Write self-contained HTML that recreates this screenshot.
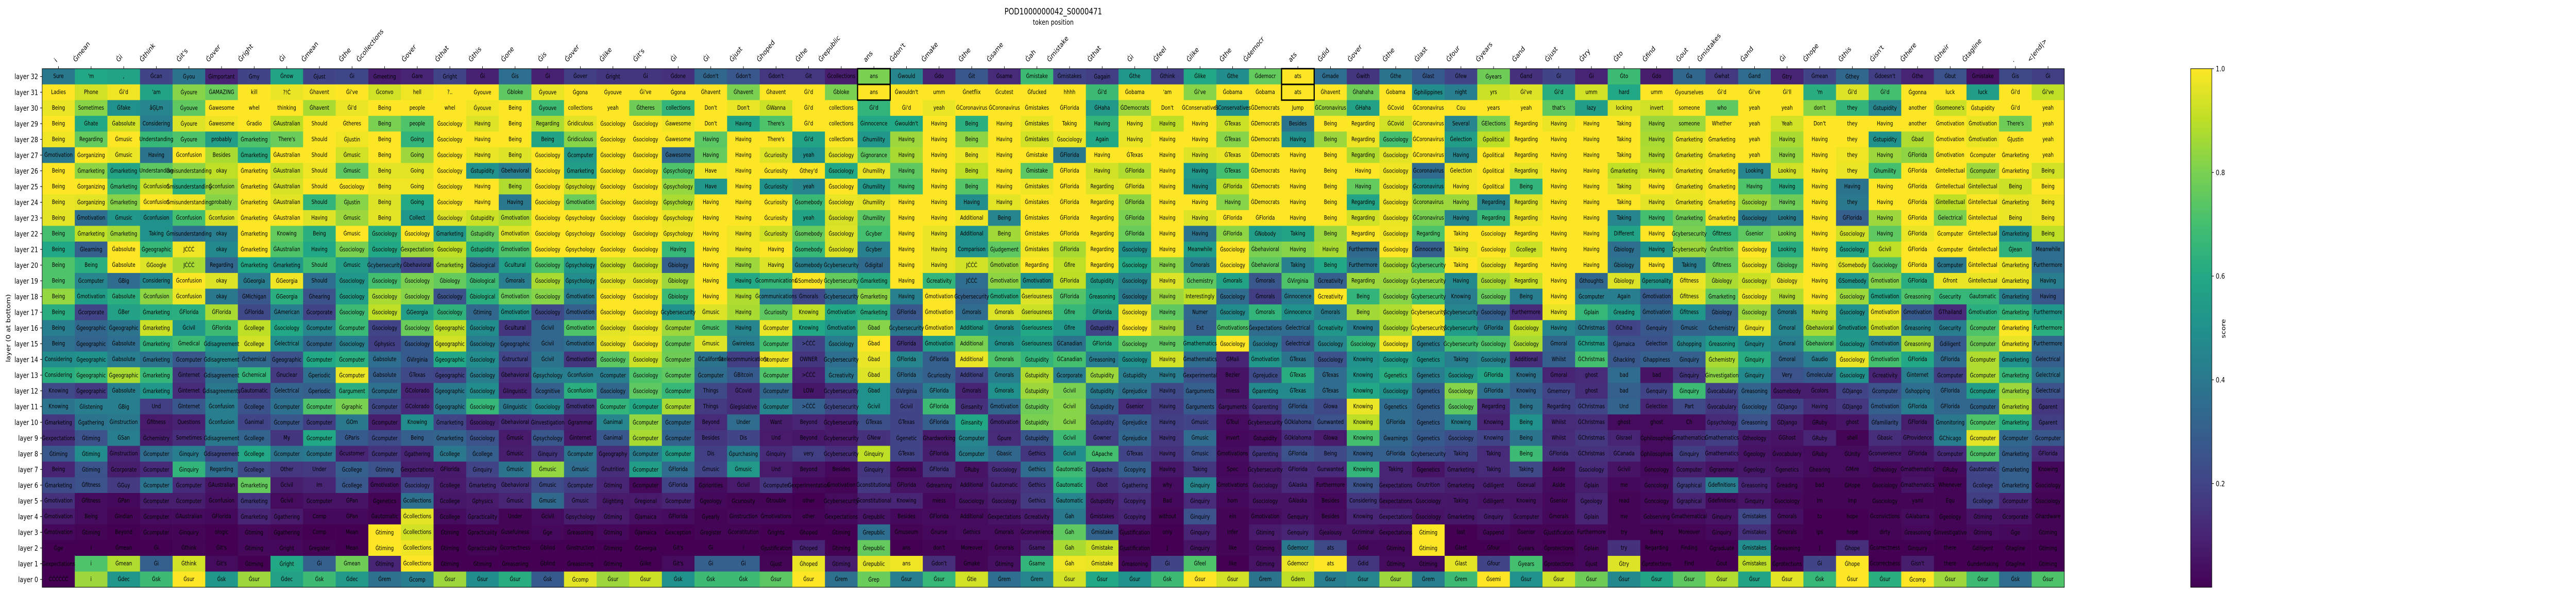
<!DOCTYPE html>
<html lang="en">
<head>
<meta charset="utf-8">
<title>POD1000000042_S0000471 token position heatmap</title>
<style>
html,body{margin:0;padding:0;background:#fff;width:100%;height:100%;overflow:hidden}
svg{display:block;width:100vw;height:100vh}
text{font-family:"DejaVu Sans","Liberation Sans",sans-serif;fill:#000}
</style>
</head>
<body>
<svg id="chart" xmlns="http://www.w3.org/2000/svg" viewBox="0 0 6200 1155" preserveAspectRatio="none">
<rect x="0" y="0" width="6200" height="1155" fill="#fff"/>
<text x="2535" y="28" font-size="16.67" text-anchor="middle">POD1000000042_S0000471</text>
<text x="2535" y="48" font-size="13.89" text-anchor="middle">token position</text>
<text x="0" y="0" font-size="13.89" text-anchor="middle" transform="translate(25 637) rotate(-90)">layer (0 at bottom)</text>
<text x="0" y="0" font-size="13.89" text-anchor="middle" transform="translate(5356 638) rotate(-90)">score</text>
<g id="cells"></g>
<g id="labels"></g>
<g id="highlights"></g>
<rect x="101.5" y="133.3" width="4867" height="1006.7" fill="none" stroke="#000" stroke-width="1.1"/>
<g id="xaxis"></g>
<g id="yaxis"></g>
<defs><linearGradient id="cbGrad" x1="0" y1="1" x2="0" y2="0"></linearGradient></defs>
<rect id="cbBar" x="5272.5" y="133.3" width="51" height="1006.7" fill="url(#cbGrad)" stroke="#000" stroke-width="1.1"/>
<g id="cbaxis"></g>
</svg>
<script>
const xTokens=["i","Ġmean","Ġi","Ġthink","Ġit's","Ġover","Ġright","Ġi","Ġmean","Ġthe","Ġcollections","Ġover","Ġthat","Ġthis","Ġone","Ġis","Ġover","Ġlike","Ġit's","Ġi","Ġi","Ġjust","Ġhoped","Ġthe","Ġrepublic","ans","Ġdon't","Ġmake","Ġthe","Ġsame","Ġah","Ġmistake","Ġthat","Ġi","Ġfeel","Ġlike","Ġthe","Ġdemocr","ats","Ġdid","Ġover","Ġthe","Ġlast","Ġfour","Ġyears","Ġand","Ġjust","Ġtry","Ġto","Ġfind","Ġout","Ġmistakes","Ġand","Ġi","Ġhope","Ġthis","Ġisn't","Ġthere","Ġtheir","Ġtagline",".","<|end|>"];
const layerNumbers=[32,31,30,29,28,27,26,25,24,23,22,21,20,19,18,17,16,15,14,13,12,11,10,9,8,7,6,5,4,3,2,1,0];
const colorbarTicks=[0.2,0.4,0.6,0.8,1.0];
const highlightCols=[25,38];
const highlightLayers=[32,31];

const tokensL32="Sure|'m|,|Ġcan|Ġyou|Ġimportant|Ġmy|Ġnow|Ġjust|Ġi|Ġmeeting|Ġare|Ġright|Ġi|Ġis|Ġi|Ġover|Ġright|Ġi|Ġdone|Ġdon't|Ġdon't|Ġdon't|Ġit|Ġcollections|ans|Ġwould|Ġdo|Ġit|Ġsame|Ġmistake|Ġmistakes|Ġagain|Ġthe|Ġthink|Ġlike|Ġthe|Ġdemocr|ats|Ġmade|Ġwith|Ġthe|Ġlast|Ġfew|Ġyears|Ġand|Ġi|Ġi|Ġto|Ġdo|Ġa|Ġwhat|Ġand|Ġtry|Ġmean|Ġthey|Ġdoesn't|Ġthe|Ġbut|Ġmistake|Ġis|Ġi".split("|");
const scoresL32=[40,60,58,20,38,10,20,58,20,21,8,10,20,9,36,9,18,15,15,14,33,27,16,16,8,80,45,10,27,12,68,20,18,52,18,60,48,76,100,36,15,38,28,20,78,14,20,10,68,8,33,17,35,10,20,33,18,10,25,5,22,18];
const tokensL31="Ladies|Phone|Ġi'd|'am|Ġyoure|ĠAMAZING|kill|?!Ċ|Ġhavent|Ġi've|Ġconvo|hell|?..|Ġyouve|Ġbloke|Ġyouve|Ġgona|Ġyouve|Ġi've|Ġgona|Ġhavent|Ġhavent|Ġhavent|Ġi'd|Ġbloke|ans|Ġwouldn't|umm|Ġnetflix|Ġcutest|Ġfucked|hhhh|Ġi'd|Ġobama|'am|Ġi've|Ġobama|Ġobama|ats|Ġhavent|Ġhahaha|Ġobama|Ġphilippines|night|yrs|Ġi've|Ġi'd|umm|hard|umm|Ġyourselves|Ġi'd|Ġi've|Ġi'll|'m|Ġi'd|Ġi'd|Ġgonna|luck|luck|Ġi'd|Ġi've".split("|");
const scoresL31=[100,93,98,58,82,77,100,97,99,100,93,98,100,100,75,97,100,100,100,100,100,80,100,100,80,100,100,100,100,100,100,100,68,100,100,82,100,100,100,100,78,100,48,42,92,95,62,93,60,100,100,100,100,100,62,95,70,100,100,55,100,90];
const tokensL30="Being|Sometimes|Ġfake|âĢĻm|Ġyouve|Ġawesome|whel|thinking|Ġhavent|Ġi'd|Being|people|whel|Ġyouve|Being|Ġyouve|collections|yeah|Ġtheres|collections|Don't|Don't|ĠWanna|Ġi'd|collections|Ġi'd|Ġi'd|yeah|ĠCoronavirus|ĠCoronavirus|Ġmistakes|ĠFlorida|ĠHaha|ĠDemocrats|Don't|ĠConservatives|ĠConservatives|ĠDemocrats|Jump|ĠCoronavirus|ĠHaha|ĠCovid|ĠCoronavirus|Cou|years|yeah|that's|lazy|locking|invert|someone|who|yeah|yeah|don't|they|Ġstupidity|another|Ġsomeone's|Ġstupidity|Ġi'd|yeah".split("|");
const scoresL30=[97,82,50,45,75,100,100,100,87,97,100,100,100,98,100,68,100,100,78,65,100,97,92,100,100,65,100,97,100,100,100,100,53,85,100,100,50,100,100,85,57,100,100,100,100,100,75,55,95,93,100,75,100,100,82,65,45,100,92,100,100,100];
const tokensL29="Being|Ġhate|Ġabsolute|Considering|Ġyoure|Ġawesome|Ġradio|ĠAustralian|Should|Ġtheres|Being|people|Ġsociology|Having|Being|Regarding|Ġridiculous|Ġsociology|Ġsociology|Ġawesome|Don't|Having|There's|Ġi'd|collections|Ġinnocence|Ġwouldn't|Having|Being|Having|Ġmistakes|Taking|Having|Having|Having|Having|ĠTexas|ĠDemocrats|Besides|Being|Regarding|ĠCovid|ĠCoronavirus|Several|ĠElections|Regarding|Having|Having|Taking|Having|someone|Whether|yeah|Yeah|Don't|they|Having|another|Ġmotivation|Ġmotivation|There's|yeah".split("|");
const scoresL29=[100,60,93,42,95,98,100,90,100,100,80,72,100,95,100,87,96,100,100,98,100,58,72,100,100,60,60,100,63,100,97,100,65,97,90,100,92,100,38,100,100,93,100,45,80,100,97,100,100,85,85,100,100,93,100,100,100,100,100,97,78,100];
const tokensL28="Being|Regarding|Ġmusic|Understanding|Ġyoure|probably|Ġmarketing|There's|Should|ĠJustin|Being|Going|Ġsociology|Having|Being|Being|Ġridiculous|Ġsociology|Ġsociology|Ġawesome|Having|Having|There's|Ġi'd|collections|Ġhumility|Having|Having|Being|Having|Ġmistakes|Ġsociology|Again|Having|Having|Having|ĠTexas|ĠDemocrats|Having|Being|Regarding|Ġsociology|ĠCoronavirus|Ġelection|Ġpolitical|Regarding|Having|Having|Taking|Having|Ġmarketing|Ġmarketing|yeah|Having|Having|they|Ġstupidity|Ġbad|Ġmotivation|Ġmotivation|ĠJustin|yeah".split("|");
const scoresL28=[98,76,100,66,72,55,72,77,100,98,100,65,100,100,100,58,82,100,100,100,74,100,100,58,100,52,85,100,83,100,93,97,60,97,100,100,82,100,50,85,98,70,100,55,90,100,100,100,100,87,97,100,100,87,100,100,50,88,100,97,100,100];
const tokensL27="Ġmotivation|Ġorganizing|Ġmusic|Having|Ġconfusion|Besides|Ġmarketing|ĠAustralian|Should|Ġmusic|Being|Going|Ġsociology|Having|Being|Ġsociology|Ġcomputer|Ġsociology|Ġsociology|Ġawesome|Having|Having|Ġcuriosity|yeah|Ġsociology|Ġignorance|Having|Having|Being|Having|Ġmistake|ĠFlorida|Having|ĠTexas|Having|Having|ĠTexas|ĠDemocrats|Having|Being|Regarding|Ġsociology|ĠCoronavirus|Having|Ġpolitical|Regarding|Having|Having|Taking|Having|Ġmarketing|Ġmarketing|yeah|Having|Having|they|Having|ĠFlorida|Ġmotivation|Ġcomputer|Ġmarketing|yeah".split("|");
const scoresL27=[40,100,97,38,100,87,62,100,100,93,100,85,100,97,95,100,53,100,100,33,76,100,95,50,96,75,87,100,97,100,100,40,100,100,100,95,97,100,100,100,88,96,100,45,100,100,100,100,100,88,97,100,100,84,100,98,85,83,100,100,100,100];
const tokensL26="Being|Ġmarketing|Ġmarketing|Understanding|Ġmisunderstanding|okay|Ġmarketing|ĠAustralian|Should|Ġmusic|Being|Going|Ġsociology|Ġstupidity|Ġbehavioral|Ġsociology|Ġmarketing|Ġsociology|Ġsociology|Ġpsychology|Have|Having|Ġcuriosity|Ġthey'd|Ġsociology|Ġhumility|Having|Having|Being|Having|Ġmistake|ĠFlorida|Having|ĠFlorida|Having|Having|ĠTexas|ĠDemocrats|Having|Being|Having|Ġsociology|Ġcoronavirus|Ġelection|Ġpolitical|Regarding|Having|Having|Ġmarketing|Having|Ġmarketing|Ġmarketing|Looking|Looking|Having|they|Ġhumility|ĠFlorida|Ġintellectual|Ġcomputer|Ġmarketing|Being".split("|");
const scoresL26=[100,83,58,75,83,90,100,92,98,75,96,96,100,50,42,100,55,100,100,72,98,100,100,100,60,97,75,100,90,100,74,100,93,88,100,53,70,100,100,100,100,98,35,98,100,97,100,100,90,92,98,100,45,93,100,97,70,100,100,85,100,93];
const tokensL25="Being|Ġorganizing|Ġmarketing|Ġconfusion|Ġmisunderstanding|Ġconfusion|Ġmarketing|ĠAustralian|Should|Ġsociology|Being|Going|Ġsociology|Having|Being|Ġsociology|Ġpsychology|Ġsociology|Ġsociology|Ġpsychology|Have|Having|Ġcuriosity|yeah|Ġsociology|Ġhumility|Having|Having|Being|Having|Ġmistakes|ĠFlorida|Regarding|ĠFlorida|Having|Having|ĠFlorida|ĠDemocrats|Having|Being|Having|Ġsociology|Ġcoronavirus|Having|Ġpolitical|Being|Having|Having|Taking|Having|Ġmarketing|Ġmarketing|Having|Having|Having|Having|Having|ĠFlorida|Ġintellectual|Ġintellectual|Being|Being".split("|");
const scoresL25=[100,100,68,92,63,85,100,94,100,100,98,98,100,100,88,100,93,100,100,84,52,100,50,45,100,53,70,100,73,100,98,100,95,96,100,50,90,100,100,100,76,98,50,98,100,65,100,100,95,100,98,100,72,62,100,38,100,100,100,95,92,100];
const tokensL24="Being|Ġorganizing|Ġmarketing|Ġconfusion|Ġmisunderstanding|probably|Ġmarketing|ĠAustralian|Should|ĠJustin|Being|Going|Ġsociology|Having|Having|Ġsociology|Ġmotivation|Ġsociology|Ġsociology|Ġpsychology|Having|Having|Ġcuriosity|Ġsomebody|Ġsociology|Ġhumility|Having|Having|Having|Having|Ġmistakes|ĠFlorida|Regarding|ĠFlorida|Having|Having|Having|ĠDemocrats|Having|Being|Regarding|Ġsociology|Ġcoronavirus|Having|Regarding|Regarding|Having|Having|Taking|Having|Ġmarketing|Ġmarketing|Ġsociology|Having|Having|they|Having|ĠFlorida|Ġintellectual|Ġintellectual|Ġmarketing|Being".split("|");
const scoresL24=[97,96,82,100,98,82,100,96,65,82,95,60,100,100,40,100,77,100,100,87,100,100,100,67,97,96,100,100,48,96,100,100,100,83,100,100,82,100,100,100,58,98,85,85,45,95,100,100,100,96,97,100,85,78,100,40,100,100,90,100,97,98];
const tokensL23="Being|Ġmotivation|Ġmusic|Ġconfusion|Ġconfusion|Ġconfusion|Ġmarketing|ĠAustralian|Having|Ġmusic|Being|Collect|Ġsociology|Ġstupidity|Ġmotivation|Ġsociology|Ġpsychology|Ġsociology|Ġsociology|Ġpsychology|Having|Having|Ġcuriosity|yeah|Ġsociology|Ġhumility|Having|Having|Additional|Being|Ġmistakes|ĠFlorida|Regarding|ĠFlorida|Having|Having|ĠFlorida|ĠFlorida|Having|Being|Regarding|Ġsociology|ĠCoronavirus|Having|Regarding|Regarding|Having|Having|Taking|Having|Ġmarketing|Ġmarketing|Ġsociology|Looking|Having|ĠFlorida|Having|ĠFlorida|Ġelectrical|Ġintellectual|Being|Being".split("|");
const scoresL23=[96,36,52,50,70,95,100,100,95,85,96,52,95,92,88,100,100,100,100,97,100,100,100,58,94,74,100,100,98,45,100,100,100,80,100,95,100,100,100,100,93,97,80,45,66,98,100,100,45,70,78,100,40,42,100,30,85,100,80,100,97,98];
const tokensL22="Being|Ġmarketing|Ġmarketing|Taking|Ġmisunderstanding|okay|Ġmarketing|Knowing|Being|Ġmusic|Ġsociology|Ġsociology|Ġmarketing|Ġstupidity|Ġmotivation|Ġsociology|Ġpsychology|Ġsociology|Ġsociology|Ġpsychology|Having|Having|Ġcuriosity|Ġsomebody|Ġsociology|Ġcyber|Having|Having|Additional|Being|Ġmistakes|ĠFlorida|Regarding|ĠFlorida|Having|Having|ĠFlorida|ĠNobody|Taking|Being|Regarding|Ġsociology|Regarding|Taking|Ġsociology|Regarding|Having|Having|Different|Having|Ġcybersecurity|Ġfitness|Ġsenior|Looking|Having|Ġsociology|Having|ĠFlorida|Ġcomputer|Ġintellectual|Ġmarketing|Being".split("|");
const scoresL22=[70,90,86,50,37,42,100,76,63,100,63,100,52,77,95,100,100,100,100,98,100,98,93,76,95,70,100,97,50,86,100,100,100,77,100,38,83,55,58,85,100,98,72,100,100,100,100,100,58,100,80,65,75,80,100,93,75,97,100,100,48,90];
const tokensL21="Being|Ġlearning|Ġabsolute|Ġgeographic|JĊĊĊ|okay|Ġmarketing|ĠAustralian|Having|Ġsociology|Ġsociology|Ġexpectations|Ġsociology|Ġstupidity|Ġmotivation|Ġsociology|Ġpsychology|Ġsociology|Ġsociology|Having|Having|Having|Having|Ġsomebody|Ġsociology|Ġcyber|Having|Having|Comparison|Ġjudgement|Ġmistakes|ĠFlorida|Regarding|Ġsociology|Having|Meanwhile|Ġsociology|Ġbehavioral|Having|Having|Furthermore|Ġsociology|Ġinnocence|Taking|Ġsociology|Ġcollege|Having|Having|Ġbiology|Having|Ġcybersecurity|Ġnutrition|Ġsociology|Looking|Having|Ġsociology|Ġcivil|ĠFlorida|Ġcomputer|Ġintellectual|ĠJean|Meanwhile".split("|");
const scoresL21=[60,30,100,66,98,47,100,72,60,80,60,85,90,63,72,100,100,100,100,66,100,98,100,66,95,43,100,97,50,75,98,87,100,50,100,55,100,80,82,87,34,100,30,97,100,92,100,100,36,52,85,80,100,62,100,58,90,100,100,100,64,36];
const tokensL20="Being|Being|Ġabsolute|ĠGoogle|JĊĊĊ|Regarding|Ġmarketing|Ġmarketing|Should|Ġmusic|Ġcybersecurity|Ġbehavioral|Ġmarketing|Ġbiological|Ġcultural|Ġsociology|Ġpsychology|Ġsociology|Ġsociology|Ġbiology|Having|Having|Having|Ġsomebody|Ġcybersecurity|Ġdigital|Having|Having|JĊĊĊ|Ġmotivation|Regarding|Ġfire|Regarding|Ġsociology|Having|Ġmorals|Ġsociology|Ġbehavioral|Taking|Being|Furthermore|Ġsociology|Ġcybersecurity|Taking|Ġsociology|Regarding|Having|Having|Ġbiology|Having|Taking|Ġfitness|Ġsociology|Ġbiology|Having|ĠSomebody|Ġsociology|ĠFlorida|Ġcomputer|Ġintellectual|Ġmarketing|Furthermore".split("|");
const scoresL20=[72,63,100,95,87,33,60,53,68,55,40,20,87,33,56,72,52,92,92,30,100,85,95,43,42,34,100,97,93,85,100,90,100,60,82,42,100,75,43,60,38,87,72,100,97,100,100,100,38,100,42,76,97,74,100,96,73,100,40,100,97,36];
const tokensL19="Being|Ġcomputer|ĠBig|Considering|Ġconfusion|okay|ĠGeorgia|ĠGeorgia|Should|Ġsociology|Ġsociology|Ġsociology|Ġbiology|Ġbiological|Ġmorals|Ġsociology|Ġpsychology|Ġsociology|Ġsociology|Ġbiology|Having|Having|Ġcommunications|ĠSomebody|Ġcybersecurity|Ġmarketing|Having|Ġcreativity|JĊĊĊ|Ġmotivation|Ġmotivation|ĠFlorida|Ġstupidity|Ġsociology|Having|Ġchemistry|Ġmorals|Ġmorals|ĠVirginia|Ġcreativity|Regarding|Ġsociology|Ġcybersecurity|Having|Ġsociology|Regarding|Having|Ġthoughts|Ġbiology|Ġpersonality|Ġfitness|Ġbiology|Ġsociology|Ġbiology|Having|ĠSomebody|Ġmotivation|ĠFlorida|Ġfront|Ġintellectual|Ġmarketing|Having".split("|");
const scoresL19=[72,45,35,47,100,95,42,98,36,52,70,80,76,68,42,87,48,96,96,85,100,60,66,100,76,62,100,65,36,83,50,90,55,45,95,75,58,27,72,30,85,85,85,47,87,92,100,33,95,53,97,87,92,97,100,53,82,62,97,97,97,42];
const tokensL18="Being|Ġmotivation|Ġabsolute|Ġconfusion|Ġconfusion|okay|ĠMichigan|ĠGeorgia|Ġhearing|Ġsociology|Ġsociology|Ġsociology|Ġsociology|Ġbiological|Ġmotivation|Ġsociology|Ġmotivation|Ġsociology|Ġsociology|Ġbiology|Having|Having|Ġcommunications|Ġmorals|Ġcybersecurity|Ġmarketing|Having|Ġmotivation|Ġcybersecurity|Ġmotivation|Ġseriousness|ĠFlorida|Ġreasoning|Ġsociology|Having|Interestingly|Ġsociology|Ġmorals|Ġinnocence|Ġcreativity|Being|Ġsociology|Ġcybersecurity|Knowing|Ġsociology|Being|Having|Ġcomputer|Again|Ġmotivation|Ġfitness|Ġmarketing|Ġsociology|Having|Having|Ġsociology|Ġmotivation|Ġreasoning|Ġsecurity|Ġautomatic|Ġmarketing|Having".split("|");
const scoresL18=[84,55,63,83,97,40,27,63,25,55,87,82,25,62,77,82,42,100,100,67,100,88,42,22,36,83,43,100,32,62,95,73,60,40,85,90,35,18,42,100,65,82,70,42,77,42,100,42,42,28,95,75,97,88,100,85,58,72,66,66,42,27];
const tokensL17="Being|Ġcorporate|ĠBer|Ġmarketing|ĠFlorida|ĠFlorida|ĠFlorida|ĠAmerican|Ġcorporate|Ġsociology|Ġsociology|ĠGeorgia|Ġsociology|Ġtiming|Ġmotivation|Ġsociology|Ġmotivation|Ġsociology|Ġsociology|Ġcybersecurity|Ġmusic|Having|Ġcuriosity|Knowing|Ġmotivation|Ġmarketing|ĠFlorida|Ġmotivation|Ġmorals|Ġmorals|Ġseriousness|Ġfire|ĠFlorida|Ġsociology|Having|Numer|Ġsociology|Ġmorals|Ġinnocence|Ġmorals|Being|Ġsociology|Ġcybersecurity|Ġcybersecurity|Ġsociology|Furthermore|Having|Ġplain|Ġreading|Ġmotivation|Ġfitness|Ġbiology|Ġsociology|Ġmorals|Having|Ġsociology|Ġmotivation|Ġmotivation|ĠThailand|Ġmotivation|Ġmarketing|Furthermore".split("|");
const scoresL17=[62,20,57,62,63,87,22,42,20,68,90,55,64,33,52,22,30,100,100,50,95,87,75,90,60,62,27,100,35,95,92,66,57,98,75,33,48,65,50,42,86,88,98,45,30,12,97,66,55,33,52,30,85,42,93,50,98,28,12,63,65,52];
const tokensL16="Being|Ġgeographic|Ġgeographic|Ġmarketing|Ġcivil|ĠFlorida|Ġcollege|Ġsociology|Ġcomputer|Ġcomputer|Ġsociology|Ġsociology|Ġgeographic|Ġsociology|Ġcultural|Ġcivil|Ġmotivation|Ġsociology|Ġsociology|Ġcomputer|Ġmusic|Having|Ġcomputer|Knowing|Ġmotivation|Ġbad|Ġcybersecurity|Ġmotivation|Additional|Ġmorals|Ġseriousness|Ġfire|Ġstupidity|Ġsociology|Having|Ext|Ġmotivations|Ġexpectations|Ġelectrical|Ġcreativity|Knowing|Ġsociology|Ġcybersecurity|Ġcybersecurity|ĠFlorida|Ġsociology|Having|ĠChristmas|ĠChina|Ġenquiry|Ġmusic|Ġchemistry|Ġinquiry|Ġmoral|Ġbehavioral|Ġmotivation|Ġmotivation|Ġreasoning|Ġsecurity|Ġcomputer|Ġmarketing|Furthermore".split("|");
const scoresL16=[42,33,38,92,52,68,90,60,45,67,20,77,90,48,15,33,72,96,97,85,72,45,97,60,52,82,40,99,55,48,60,52,20,100,85,30,72,35,35,52,42,87,98,55,42,90,45,40,20,27,32,33,97,45,87,52,92,45,42,72,100,63];
const tokensL15="Being|Ġgeographic|Ġabsolute|Ġmarketing|Ġmedical|Ġdisagreement|Ġcollege|Ġelectrical|Ġcomputer|Ġsociology|Ġphysics|Ġsociology|Ġgeographic|Ġsociology|Ġgeographic|Ġcivil|Ġmotivation|Ġsociology|Ġsociology|Ġcomputer|Ġmusic|Ġwireless|Ġcomputer|>ĊĊĊ|Ġsociology|Ġbad|ĠFlorida|Ġmotivation|Additional|Ġmorals|Ġseriousness|ĠCanadian|ĠFlorida|Ġsociology|Having|Ġmathematics|Ġsociology|Ġsociology|Ġelectrical|Ġsociology|Ġsociology|Ġsociology|Ġgenetics|Ġcybersecurity|Ġsociology|Ġsociology|Ġmoral|ĠChristmas|ĠJamaica|Ġelection|Ġshopping|Ġreasoning|Ġinquiry|Ġmoral|Ġbehavioral|Ġsociology|Ġmotivation|Ġreasoning|Ġdiligent|Ġcomputer|Ġmarketing|Furthermore".split("|");
const scoresL15=[37,32,36,64,68,52,93,47,33,43,18,28,93,42,28,33,36,97,99,77,95,42,70,20,42,100,15,55,80,50,55,38,62,75,75,55,100,42,25,45,66,98,42,70,72,87,33,55,26,25,45,55,48,42,72,53,42,87,28,78,97,33];
const tokensL14="Considering|Ġgeographic|Ġabsolute|Ġmarketing|Ġcomputer|Ġdisagreement|Ġchemical|Ġgeographic|Ġcomputer|Ġcomputer|Ġabsolute|ĠVirginia|Ġgeographic|Ġsociology|Ġstructural|Ġcivil|Ġmotivation|Ġsociology|Ġsociology|Ġcomputer|ĠCalifornia|Ġtelecommunications|Ġcomputer|OWNER|Ġcybersecurity|Ġbad|ĠFlorida|ĠFlorida|Additional|Ġmorals|Ġstupidity|ĠCanadian|Ġreasoning|Ġsociology|Having|Ġmathematics|GMali|Ġmotivation|ĠTexas|Ġsociology|Knowing|Ġsociology|Ġgenetics|Taking|Ġsociology|Additional|Whilst|ĠChristmas|Ġhacking|Ġhappiness|Ġinquiry|Ġchemistry|Ġinquiry|Ġmoral|Ġaudio|Ġsociology|Ġmotivation|ĠFlorida|ĠFlorida|Ġcomputer|Ġmarketing|Ġelectrical".split("|");
const scoresL14=[48,50,42,38,27,45,33,25,60,63,36,28,60,48,20,38,15,74,92,78,38,18,98,15,36,97,45,30,97,72,65,70,42,50,93,35,10,52,38,25,50,55,50,42,45,13,30,70,27,30,30,87,62,33,42,97,70,60,35,88,50,30];
const tokensL13="Considering|Ġgeographic|Ġgeographic|Ġmarketing|Ġinternet|Ġdisagreement|Ġchemical|Ġnuclear|Ġperiodic|Ġcomputer|Ġabsolute|ĠTexas|Ġgeographic|Ġsociology|Ġbehavioral|Ġpsychology|Ġconfusion|Ġcomputer|Ġsociology|Ġcomputer|Ġcomputer|ĠBitcoin|Ġcomputer|>ĊĊĊ|Ġcreativity|Ġbad|ĠFlorida|Ġcuriosity|Additional|Ġmorals|Ġstupidity|Ġcorporate|Ġstupidity|Ġstupidity|Having|Ġexperimental|Bezier|Ġprejudice|ĠTexas|ĠTexas|Knowing|Ġgenetics|Ġgenetics|Ġsociology|ĠFlorida|Knowing|Ġmoral|ghost|bad|bad|Ġinquiry|Ġinvestigation|Ġinquiry|Very|Ġmolecular|Ġsociology|Ġcreativity|Ġinternet|Ġcomputer|Ġcomputer|Ġmarketing|Ġelectrical".split("|");
const scoresL13=[62,65,87,66,15,36,65,17,37,97,30,22,20,42,13,42,42,42,72,75,35,28,72,10,40,95,35,30,20,42,88,42,85,42,42,25,5,23,62,35,52,62,42,50,58,38,10,12,35,5,15,83,47,25,28,50,10,42,18,88,66,37];
const tokensL12="Knowing|Ġgeographic|Ġabsolute|Ġmarketing|Ġinternet|Ġdisagreements|Ġautomatic|Ġelectrical|Ġperiodic|Ġargument|Ġcomputer|ĠColorado|Ġgeographic|Ġsociology|Ġlinguistic|Ġcognitive|Ġconfusion|Ġsociology|Ġsociology|Ġcomputer|Things|ĠCovid|Ġcomputer|LOW|Ġcybersecurity|Ġbad|ĠVirginia|ĠFlorida|Ġmorals|Ġmorals|Ġstupidity|Ġcivil|Ġstupidity|Ġprejudice|Having|Ġarguments|miess|Ġparenting|ĠTexas|ĠTexas|Knowing|Ġsociology|Ġgenetics|Ġsociology|ĠFlorida|Knowing|Ġmemory|ghost|bad|Ġenquiry|Ġinquiry|Ġvocabulary|Ġreasoning|Ġsomebody|Ġcolors|ĠDjango|Ġcomputer|Ġshopping|ĠFlorida|Ġcomputer|Ġmarketing|Ġelectrical".split("|");
const scoresL12=[22,17,43,52,12,40,15,32,30,63,37,10,40,48,10,30,63,33,75,66,22,13,33,6,14,50,27,42,10,50,85,80,42,37,22,30,5,47,47,35,60,50,30,82,37,30,20,13,30,20,68,20,32,8,8,20,25,36,33,55,85,25];
const tokensL11="Knowing|Ġlistening|ĠBig|Und|ĠInternet|Ġconfusion|Ġcollege|Ġcomputer|Ġcomputer|Ġgraphic|Ġcomputer|ĠColorado|Ġgeographic|Ġsociology|Ġlinguistic|Ġsociology|Ġmotivation|Ġcomputer|Ġcomputer|Ġcomputer|Things|Ġlegislative|Ġcomputer|>ĊĊĊ|Ġcybersecurity|Ġcivil|Ġcivil|ĠFlorida|Ġinsanity|Ġmotivation|Ġstupidity|Ġcivil|Ġstupidity|Ġsenior|Having|Ġarguments|Ġarguments|Ġparenting|ĠFlorida|Ġlowa|Knowing|Ġgenetics|Ġgenetics|Ġsociology|Regarding|Being|Regarding|ĠChristmas|Und|Ġelection|Part|Ġvocabulary|Ġsociology|ĠDjango|Having|ĠDjango|Ġmotivation|ĠFlorida|ĠFlorida|Ġcomputer|Ġmarketing|Ġparent".split("|");
const scoresL11=[38,42,42,18,27,42,25,37,72,80,22,12,40,66,40,47,15,65,60,87,17,13,45,30,22,50,20,68,14,33,78,82,30,12,17,28,7,17,28,22,97,35,30,75,12,38,18,20,32,10,22,16,30,20,13,16,30,42,33,33,88,16];
const tokensL10="Ġmarketing|Ġgathering|Ġinstruction|Ġfitness|Questions|Ġconfusion|Ġanimal|Ġcomputer|Ġcomputer|ĠOm|Ġcomputer|Knowing|Ġmarketing|Ġsociology|Ġbehavioral|Ġinvestigation|Ġgrammar|Ġanimal|Ġcomputer|Ġcomputer|Beyond|Under|Want|Beyond|Ġcybersecurity|ĠTexas|ĠTexas|ĠFlorida|Ġinsanity|Ġmotivation|Ġstupidity|Ġcivil|Ġstupidity|Ġprejudice|Having|Ġmusic|ĠToul|Ġcybersecurity|ĠOklahoma|Ġunwanted|Knowing|ĠFlorida|Ġgenetics|Knowing|Knowing|Being|Whilst|ĠChristmas|ghost|ghost|Ch|Ġpsychology|Ġreasoning|ĠDjango|ĠRuby|ghost|Ġfamiliarity|ĠFlorida|Ġmonitoring|Ġcomputer|Ġmarketing|Ġparent".split("|");
const scoresL10=[16,38,40,7,9,42,20,27,18,40,8,48,20,10,12,14,8,45,84,35,12,35,8,10,7,24,20,30,60,13,80,82,20,30,18,20,3,7,22,25,90,35,30,43,10,50,12,13,3,3,3,12,25,8,3,5,24,8,40,72,62,18];
const tokensL9="Ġexpectations|Ġtiming|ĠSan|Ġchemistry|Sometimes|Ġdisagreement|Ġcollege|My|Ġcomputer|ĠParis|Ġcomputer|Being|Ġmarketing|Ġsociology|Ġmusic|Ġpsychology|Ġinternet|Ġanimal|Ġcomputer|Ġcomputer|Besides|Dis|Und|Beyond|Ġcybersecurity|ĠNew|Ġgenetic|Ġhardworking|Ġcomputer|Ġpure|Ġstupidity|Ġcivil|Ġowner|Ġprejudice|Having|Ġmusic|invert|Ġstupidity|ĠOklahoma|Ġlowa|Knowing|Ġwarnings|Ġgenetics|Ġsociology|Knowing|Being|Whilst|ĠChristmas|ĠIsrael|Ġphilosophies|Ġmathematics|Ġmathematics|Ġtheology|ĠGhost|ĠRuby|shell|Ġbasic|ĠProvidence|ĠChicago|Ġcomputer|Ġcomputer|Ġcomputer".split("|");
const scoresL9=[13,25,42,8,13,40,32,15,60,28,23,30,32,25,7,27,7,27,87,32,15,20,7,6,7,14,20,7,45,12,27,68,18,33,16,35,2,3,12,7,70,33,28,24,20,38,12,16,10,3,13,18,6,5,10,1,13,10,42,96,33,27];
const tokensL8="Ġtiming|Ġtiming|Ġinstruction|Ġcomputer|Ġinquiry|Ġdisagreement|Ġcollege|Ġcomputer|Ġcomputer|Ġcustomer|Ġcomputer|Ġgathering|Ġcollege|Ġcollege|Ġmusic|Ġinquiry|Ġcomputer|Ġgeography|Ġcomputer|Ġcomputer|Dis|Ġpurchasing|Ġinquiry|very|Ġcybersecurity|Ġinquiry|ĠTexas|ĠFlorida|Ġcomputer|Ġbasic|Ġethics|Ġcivil|ĠApache|ĠTexas|Having|Ġmusic|Ġmotivations|Ġparenting|ĠFlorida|Being|Knowing|ĠFlorida|Ġcybersecurity|Taking|Taking|Being|ĠFlorida|ĠChristmas|ĠCanada|Ġphilosophies|Ġinquiry|Ġmathematics|Ġgeology|Ġvocabulary|ĠRuby|ĠUnity|Ġconvenience|ĠFlorida|Ġcomputer|Ġcomputer|Ġmarketing|ĠFlorida".split("|");
const scoresL8=[27,48,10,35,42,22,60,38,40,10,15,10,40,30,8,15,38,13,42,55,18,42,12,18,13,90,20,8,42,33,15,48,70,20,14,25,3,15,25,22,30,30,25,20,12,68,14,14,13,3,18,12,5,4,3,3,8,6,12,72,30,12];
const tokensL7="Being|Ġtiming|Ġcorporate|Ġcomputer|Ġinquiry|Regarding|Ġcollege|Other|Under|Ġcollege|Ġtiming|Ġexpectations|ĠFlorida|Ġinquiry|Ġmusic|Ġmusic|Ġmusic|Ġnutrition|Ġcomputer|ĠFlorida|Ġmusic|Ġmusic|Und|Beyond|Besides|Ġinquiry|Ġmorals|ĠFlorida|ĠRuby|Ġsociology|Ġethics|Ġautomatic|ĠApache|Ġcopying|Having|Taking|Spec|Ġcybersecurity|ĠFlorida|Ġunwanted|Knowing|Taking|Ġgenetics|Ġmarketing|Taking|Taking|Aside|Ġsociology|Ġcivil|Ġoncology|Ġcomputer|Ġgrammar|Ġgeology|Ġgenetics|Ġhearing|ĠMire|Ġtheology|Ġmathematics|ĠRuby|Ġautomatic|Ġmarketing|Knowing".split("|");
const scoresL7=[10,26,8,12,65,36,22,16,17,30,25,8,7,20,38,84,35,13,55,35,20,53,7,5,2,15,3,15,5,13,35,68,20,30,6,15,2,7,12,12,65,10,5,10,12,22,4,12,5,2,8,5,6,5,3,3,2,4,2,20,30,2];
const tokensL6="Ġmarketing|Ġfitness|ĠGuy|Ġcomputer|Ġcomputer|ĠAustralian|Ġmarketing|Ġcivil|Im|Ġcollege|Ġmotivation|Ġsociology|Ġcollege|Ġmarketing|Ġbehavioral|Ġmusic|Ġcomputer|Ġtiming|Ġcomputer|ĠFlorida|Ġpriorities|Ġcivil|Ġcomputer|Ġexperimentation|Ġmotivation|Ġconstitutional|ĠFlorida|Ġdreaming|Additional|Ġautomatic|Ġethics|Ġautomatic|Ġbot|Ġgathering|why|Ġinquiry|Ġmotivations|Ġsociology|ĠAlaska|Furthermore|Knowing|Ġexpectations|Ġnutrition|Ġmarketing|Ġdiligent|Ġsexual|Aside|Ġplain|me|Ġoncology|Ġgraphical|Ġdefinitions|Ġreasoning|Ġreading|bad|ĠHope|Ġsociology|Ġmathematics|Whenever|Ġcollege|Ġmarketing|Ġsociology".split("|");
const scoresL6=[23,25,17,38,12,5,76,8,10,27,5,20,7,13,14,23,18,10,2,20,3,7,15,2,1,17,5,5,6,10,15,63,13,17,3,45,3,7,12,4,25,10,10,8,8,8,3,8,2,3,18,42,10,3,1,1,1,5,1,20,30,2];
const tokensL5="Ġmotivation|Ġfitness|ĠPan|Ġcomputer|Ġcomputer|Ġconfusion|Ġmarketing|Ġcivil|Ġcomputer|ĠPan|Ġgenetics|Ġcollections|Ġcollege|Ġphysics|Ġmusic|Ġmusic|Ġmusic|Ġlighting|Ġregional|Ġcomputer|Ġgeology|Ġcuriosity|Ġtrouble|other|Ġcybersecurity|Ġconstitutional|Knowing|miess|Ġsociology|Ġsociology|Ġethics|Ġautomatic|Ġstupidity|Ġcopying|Bad|Ġinquiry|hom|Ġsociology|ĠAlaska|Besides|Considering|Ġexpectations|Ġsociology|Taking|Ġdiligent|Knowing|Ġsenior|Ġgeology|read|Ġoncology|Ġgraphical|Ġdefinitions|Ġinquiry|Ġsociology|Im|Imp|Ġsociology|yaml|Equ|Ġcollege|Ġcomputer|Ġsociology".split("|");
const scoresL5=[14,3,2,8,8,4,16,3,5,5,1,37,6,7,10,34,13,7,7,10,2,1,1,0,3,10,10,2,5,8,17,45,7,12,2,12,2,5,5,2,15,6,6,6,5,5,2,10,1,2,10,3,5,2,1,1,1,1,1,18,10,1];
const tokensL4="Ġmotivation|Being|ĠIndian|Ġcomputer|ĠAustralian|ĠFlorida|Ġmarketing|Ġgathering|Comp|ĠPan|Ġautomatic|Ġcollections|Ġcollege|Ġpracticality|Under|Ġcivil|Ġpsychology|Ġtiming|ĠJamaica|ĠFlorida|Ġyearly|Ġinstruction|Ġmotivations|other|Ġexpectations|Ġrepublic|Besides|ĠFlorida|Additional|Ġexpectations|Ġcreativity|Ġah|Ġmistakes|Ġcopying|without|Ġinquiry|ein|Ġmotivation|Ġenquiry|Besides|Knowing|Ġexpectations|Ġsociology|Ġmarketing|Ġinquiry|Ġcomputer|Ġmorals|Ġplain|me|Ġobserving|Ġmathematical|Ġinquiry|Ġmistakes|Ġmorals|to|hope|Ġconvictions|ĠAlabama|Ġgeology|Ġtiming|Ġcorporate|Ġhardware".split("|");
const scoresL4=[7,3,1,3,3,2,10,7,2,2,1,96,3,6,1,3,8,7,4,3,1,2,2,1,2,5,2,3,3,5,7,40,7,10,1,25,1,3,5,3,10,10,5,6,8,6,2,10,1,2,3,5,22,4,0,0,1,3,1,5,5,1];
const tokensL3="Ġmotivation|Ġtiming|Beyond|Ġcomputer|Ġinquiry|ologic|Ġtiming|Ġgathering|Comp|Mean|Ġtiming|Ġcollections|Ġtiming|Ġpracticality|Ġusefulness|Ġge|Ġreasoning|Ġtiming|ĠJamaica|Ġexception|Ġregister|Ġconstitution|Ġrights|Ġhoped|Ġtiming|Ġrepublic|Ġmuseum|Ġnurse|Ġethics|Ġmorals|Ġconvenience|Ġah|Ġmistake|Ġjustification|only|Ġinquiry|infer|Ġtiming|Ġenquiry|Ġjealousy|Ġcriminal|Ġexpectations|Ġtiming|last|Ġappend|Ġsenior|Ġjustification|Furthermore|try|Being|Moreover|Ġinquiry|Ġmistakes|Ġmorals|ips|hope|dirty|Ġreasoning|Ġinvestigative|Ġtiming|Ġge|Ġtiming".split("|");
const scoresL3=[2,1,0,1,1,0,2,1,0,0,100,93,0,1,1,2,1,2,0,0,1,1,0,0,0,36,1,2,3,3,4,75,32,2,0,10,1,7,10,5,5,4,100,0,2,1,1,2,1,1,1,2,14,1,0,0,1,2,1,3,2,1];
const tokensL2="Ġge|i|Ġmean|Ġi|Ġthink|Ġit's|Ġtiming|Ġright|Ġregister|Mean|Ġtiming|Ġcollections|Ġtiming|Ġpracticality|Ġcorrectness|Ġblind|Ġinstruction|Ġtiming|ĠGeorgia|Ġit's|Ġi|i|Ġjustification|Ġhoped|Ġtiming|Ġrepublic|ans|don't|Moreover|Ġmorals|Ġsame|Ġah|Ġmistake|Ġjustification|J|Ġinquiry|like|Ġtiming|Ġdemocr|ats|Ġdid|Ġtiming|Ġtiming|Ġlast|Ġfour|Ġyears|Ġprotections|Ġplain|try|Regarding|Finding|Ġgraduate|Ġmistakes|Ġreasoning|J|Ġhope|Ġcorrectness|Ġinquiry|there|Ġdiligent|Ġtagline|Ġtiming".split("|");
const scoresL2=[0,0,0,0,1,0,2,2,1,0,100,98,0,1,0,0,0,0,0,0,0,0,0,10,0,76,0,1,1,2,8,87,92,1,0,5,1,3,40,22,2,2,100,0,0,1,0,2,14,0,0,0,48,0,0,13,0,0,0,0,0,0];
const tokensL1="Ġexpectations|i|Ġmean|Ġi|Ġthink|Ġit's|Ġtiming|Ġright|Ġi|Ġmean|Ġtiming|Ġcollections|Ġtiming|Ġtiming|Ġreasoning|Ġblind|Ġreasoning|Ġtiming|Ġlike|Ġit's|Ġi|Ġi|Ġjust|Ġhoped|Ġtiming|Ġrepublic|ans|Ġdon't|Ġmake|Ġtiming|Ġsame|Ġah|Ġmistake|Ġreasoning|Ġi|Ġfeel|like|Ġtiming|Ġdemocr|ats|Ġdid|Ġtiming|Ġtiming|Ġlast|Ġfour|Ġyears|Ġprotections|Ġjust|Ġtry|Ġprotections|Find|Ġout|Ġmistakes|Ġprotections|Ġi|Ġhope|Ġcorrectness|Ġisn't|there|Ġundertaking|Ġtagline|Ġtiming".split("|");
const scoresL1=[0,72,88,30,93,3,0,60,30,78,10,100,0,0,0,0,0,0,0,3,30,30,1,97,8,96,98,13,1,4,65,98,97,2,20,72,0,5,97,100,15,3,3,96,20,70,1,2,95,0,0,0,90,0,20,100,0,8,0,0,0,0];
const tokensL0="ĊĊĊĊĊĊ|i|Ġdec|Ġsk|Ġsur|Ġsk|Ġsur|Ġdec|Ġsk|Ġdec|Ġrem|Ġcomp|Ġsur|Ġsur|Ġsur|Ġsk|Ġcomp|Ġsur|Ġsur|Ġsk|Ġsk|Ġsk|Ġsur|Ġsur|Ġrem|Ġrep|Ġsur|Ġsur|Ġtie|Ġrem|Ġrem|Ġsur|Ġsur|Ġsur|Ġsk|Ġsur|Ġsur|Ġrem|Ġdem|Ġsur|Ġsur|Ġsur|Ġrem|Ġrem|Ġsemi|Ġsur|Ġsur|Ġsur|Ġsur|Ġsur|Ġsur|Ġsur|Ġsur|Ġsur|Ġsk|Ġsur|Ġsur|Ġcomp|Ġsur|Ġsur|Ġsk|Ġsur".split("|");
const scoresL0=[0,85,52,68,100,52,85,57,68,53,37,42,85,48,62,28,96,85,92,50,68,68,74,100,37,77,42,66,93,36,45,93,60,50,68,100,93,38,90,42,45,85,42,68,100,50,93,78,47,58,75,88,58,96,66,100,63,100,85,68,35,72];

const layerTokens=[tokensL32,tokensL31,tokensL30,tokensL29,tokensL28,tokensL27,tokensL26,tokensL25,tokensL24,tokensL23,tokensL22,tokensL21,tokensL20,tokensL19,tokensL18,tokensL17,tokensL16,tokensL15,tokensL14,tokensL13,tokensL12,tokensL11,tokensL10,tokensL9,tokensL8,tokensL7,tokensL6,tokensL5,tokensL4,tokensL3,tokensL2,tokensL1,tokensL0];
const layerScores=[scoresL32,scoresL31,scoresL30,scoresL29,scoresL28,scoresL27,scoresL26,scoresL25,scoresL24,scoresL23,scoresL22,scoresL21,scoresL20,scoresL19,scoresL18,scoresL17,scoresL16,scoresL15,scoresL14,scoresL13,scoresL12,scoresL11,scoresL10,scoresL9,scoresL8,scoresL7,scoresL6,scoresL5,scoresL4,scoresL3,scoresL2,scoresL1,scoresL0];

const NS="http://www.w3.org/2000/svg";
const plot={left:101.5,right:4968.5,top:133.3,bottom:1140};
const cellW=(plot.right-plot.left)/xTokens.length;
const cellH=(plot.bottom-plot.top)/layerNumbers.length;
function xScale(col){return plot.left+col*cellW;}
function yScale(layer){return plot.top+(layerNumbers[0]-layer)*cellH;}
function cbScale(v){return plot.bottom-v*(plot.bottom-plot.top);}
const viridisHex=["#440154","#482475","#414487","#355f8d","#2a788e","#21918c","#22a884","#44bf70","#7ad151","#bddf26","#fde725"];
function rgbOf(h){return [parseInt(h.slice(1,3),16),parseInt(h.slice(3,5),16),parseInt(h.slice(5,7),16)];}
function viridis(t){
  t=Math.max(0,Math.min(1,t));
  const p=t*(viridisHex.length-1),i=Math.min(Math.floor(p),viridisHex.length-2),f=p-i;
  const a=rgbOf(viridisHex[i]),b=rgbOf(viridisHex[i+1]);
  return "rgb("+a.map((c,k)=>Math.round(c+(b[k]-c)*f)).join(",")+")";
}
function add(parent,tag,attrs){
  const el=document.createElementNS(NS,tag);
  for(const k in attrs)el.setAttribute(k,attrs[k]);
  parent.appendChild(el);
  return el;
}
const gCells=document.getElementById("cells"),gLabels=document.getElementById("labels");
layerNumbers.forEach((layer,r)=>{
  const scores=layerScores[r],tokens=layerTokens[r];
  scores.forEach((score,c)=>{
    const cell=add(gCells,"rect",{x:xScale(c),y:yScale(layer),width:cellW+0.4,height:cellH+0.4,fill:viridis(score/100)});
    
    
    const token=tokens[c];
    const tall=/[ĠĊ]/.test(token),desc=/[gjpqy,J?]/.test(token);
    const label=add(gLabels,"text",{x:xScale(c)+cellW/2,y:yScale(layer)+cellH/2+(tall&&desc?4.1:3.2),"font-size":11.11,"text-anchor":"middle"});
    
    
    label.textContent=token;
  });
});
const gHigh=document.getElementById("highlights");
highlightCols.forEach(col=>{
  highlightLayers.forEach(layer=>{
    const box=add(gHigh,"rect",{x:xScale(col),y:yScale(layer),width:cellW,height:cellH,fill:"none",stroke:"#000","stroke-width":2.8});
    
    
  });
});
const gX=document.getElementById("xaxis");
xTokens.forEach((tok,c)=>{
  const tx=xScale(c)+cellW/2;
  const tick=add(gX,"line",{x1:tx,x2:tx,y1:plot.top,y2:plot.top-4.86,stroke:"#000","stroke-width":1.1});
  
  
  const label=add(gX,"text",{"font-size":13.89});
  
  
  label.textContent=tok;
  const L=label.getComputedTextLength();
  const x0=tx-L*Math.SQRT1_2-2.05,y0=121.5;
  label.setAttribute("x",x0);
  label.setAttribute("y",y0);
  label.setAttribute("transform","rotate(-45 "+x0+" "+y0+")");
});
const gY=document.getElementById("yaxis");
layerNumbers.forEach(layer=>{
  const ty=yScale(layer)+cellH/2;
  const tick=add(gY,"line",{x1:plot.left,x2:plot.left-4.86,y1:ty,y2:ty,stroke:"#000","stroke-width":1.1});
  
  
  const label=add(gY,"text",{x:plot.left-9.7,y:ty+5.2,"font-size":13.89,"text-anchor":"end"});
  
  
  label.textContent="layer "+layer;
});
const grad=document.getElementById("cbGrad");
viridisHex.forEach((h,i)=>{
  add(grad,"stop",{offset:(i/(viridisHex.length-1)),"stop-color":h});
});
const gCb=document.getElementById("cbaxis");
colorbarTicks.forEach(v=>{
  const ty=cbScale(v);
  const tick=add(gCb,"line",{x1:5323.5,x2:5328.4,y1:ty,y2:ty,stroke:"#000","stroke-width":1.1});
  
  
  const label=add(gCb,"text",{x:5333,y:ty+5.2,"font-size":13.89});
  
  
  label.textContent=v.toFixed(1);
});
</script>
</body>
</html>
